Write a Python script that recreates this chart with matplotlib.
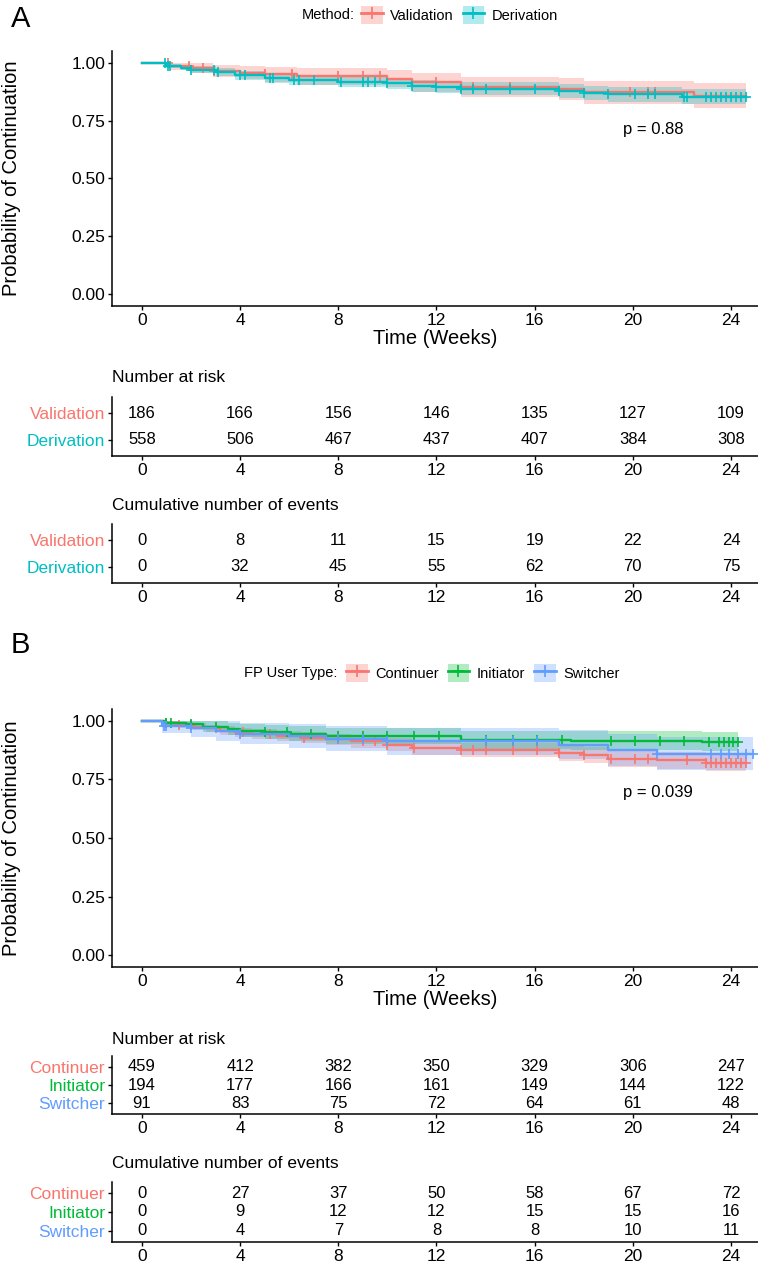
import numpy as np
import matplotlib
matplotlib.use("Agg")
import matplotlib.pyplot as plt
from matplotlib.patches import Patch
from matplotlib.lines import Line2D

plt.rcParams['font.family'] = ['Liberation Sans', 'DejaVu Sans']

W, H = 758, 1265

# ---- Panel A: Validation vs Derivation ----
val_t = [0, 1.1, 2.0, 2.9, 4.0, 5.0, 6.3, 10.0, 11.0, 13.0, 17.0, 18.0, 22.5]
val_s = [1.0, 0.985, 0.975, 0.965, 0.957, 0.950, 0.940, 0.930, 0.915, 0.895, 0.885, 0.872, 0.858]
val_lo = [1.0, 0.968, 0.953, 0.939, 0.928, 0.918, 0.905, 0.893, 0.875, 0.851, 0.838, 0.822, 0.805]
val_hi = [1.0, 1.0, 0.998, 0.991, 0.986, 0.982, 0.975, 0.967, 0.955, 0.939, 0.932, 0.922, 0.911]
val_end = 24.6
val_cens = [1.05, 1.9, 2.5, 2.95, 5.0, 6.1, 8.0, 9.0, 9.7, 12.0, 13.0, 13.5, 15.0, 19.9, 20.6, 20.9]

der_t = [0, 1.0, 1.6, 2.0, 3.0, 3.8, 5.0, 6.0, 8.0, 10.0, 11.0, 12.0, 13.0, 17.0, 18.0, 19.0, 22.0]
der_s = [1.0, 0.987, 0.978, 0.970, 0.960, 0.945, 0.935, 0.925, 0.918, 0.910, 0.900, 0.895, 0.888, 0.878, 0.870, 0.863, 0.852]
der_lo = [1.0, 0.978, 0.966, 0.956, 0.944, 0.926, 0.914, 0.902, 0.894, 0.885, 0.874, 0.868, 0.860, 0.849, 0.840, 0.832, 0.820]
der_hi = [1.0, 0.996, 0.990, 0.984, 0.976, 0.964, 0.956, 0.948, 0.942, 0.935, 0.926, 0.922, 0.916, 0.907, 0.900, 0.894, 0.884]
der_end = 24.6
der_cens = [0.95, 1.05, 1.15, 2.0, 2.95, 3.1, 4.0, 4.2, 5.2, 5.35, 6.2, 6.4, 7.0, 8.1, 9.0, 9.2, 9.5,
            10.0, 11.0, 12.0, 13.0, 13.5, 14.0, 15.0, 16.0, 17.0, 18.0, 19.0, 20.1, 20.6, 20.9, 22.1,
            22.2, 23.0, 23.2, 23.4, 23.6, 23.8, 24.0, 24.2, 24.4, 24.6]

risk_a_val = [186, 166, 156, 146, 135, 127, 109]
risk_a_der = [558, 506, 467, 437, 407, 384, 308]
events_a_val = [0, 8, 11, 15, 19, 22, 24]
events_a_der = [0, 32, 45, 55, 62, 70, 75]

# ---- Panel B: FP user type ----
cont_t = [0, 1.0, 1.5, 2.1, 2.6, 3.2, 3.8, 4.5, 5.5, 6.5, 7.5, 8.5, 10.0, 11.0, 13.0, 17.0, 18.0, 19.0, 21.0, 23.0]
cont_s = [1.0, 0.99, 0.982, 0.975, 0.967, 0.958, 0.950, 0.942, 0.935, 0.928, 0.920, 0.912, 0.897, 0.882, 0.875, 0.862, 0.853, 0.838, 0.831, 0.820]
cont_lo = [1.0, 0.981, 0.970, 0.961, 0.951, 0.940, 0.930, 0.921, 0.912, 0.904, 0.895, 0.885, 0.869, 0.852, 0.844, 0.830, 0.820, 0.804, 0.796, 0.784]
cont_hi = [1.0, 0.999, 0.994, 0.989, 0.983, 0.976, 0.970, 0.963, 0.958, 0.952, 0.945, 0.939, 0.925, 0.912, 0.906, 0.894, 0.886, 0.872, 0.866, 0.856]
cont_end = 24.6
cont_cens = [1.0, 1.5, 2.0, 3.0, 4.1, 5.2, 6.6, 8.0, 9.0, 9.5, 10.0, 11.1, 13.0, 13.5, 14.0, 15.1, 16.1, 17.0,
             18.0, 19.1, 20.1, 20.6, 22.2, 23.0, 23.2, 23.4, 23.6, 23.8, 24.0, 24.2, 24.4, 24.6]

init_t = [0, 1.0, 1.8, 2.5, 3.5, 4.0, 5.0, 6.0, 7.5, 13.0, 17.5, 22.8]
init_s = [1.0, 0.99, 0.984, 0.975, 0.965, 0.958, 0.952, 0.945, 0.934, 0.919, 0.915, 0.910]
init_lo = [1.0, 0.976, 0.966, 0.953, 0.939, 0.930, 0.921, 0.912, 0.899, 0.880, 0.875, 0.869]
init_hi = [1.0, 1.0, 1.0, 0.997, 0.991, 0.987, 0.983, 0.978, 0.970, 0.958, 0.955, 0.951]
init_end = 24.3
init_cens = [1.0, 1.2, 2.0, 3.0, 5.0, 5.9, 6.9, 8.0, 9.0, 10.0, 11.1, 12.1, 14.0, 15.1, 16.1, 17.1,
             19.1, 20.1, 21.1, 22.1, 23.1, 23.5, 23.7, 23.9, 24.1, 24.3]

sw_t = [0, 0.8, 2.0, 3.0, 4.0, 6.0, 7.5, 10.0, 17.0, 19.0, 21.0]
sw_s = [1.0, 0.978, 0.967, 0.956, 0.945, 0.934, 0.923, 0.912, 0.898, 0.875, 0.860]
sw_lo = [1.0, 0.948, 0.931, 0.915, 0.899, 0.884, 0.869, 0.855, 0.836, 0.808, 0.790]
sw_hi = [1.0, 1.0, 1.0, 0.998, 0.992, 0.985, 0.978, 0.970, 0.960, 0.942, 0.930]
sw_end = 24.9
sw_cens = [0.9, 1.0, 2.0, 4.0, 8.0, 9.0, 10.0, 14.0, 15.1, 16.1, 21.0, 23.2, 23.6, 23.9, 24.3, 24.6, 24.9]

risk_b_cont = [459, 412, 382, 350, 329, 306, 247]
risk_b_init = [194, 177, 166, 161, 149, 144, 122]
risk_b_sw = [91, 83, 75, 72, 64, 61, 48]
events_b_cont = [0, 27, 37, 50, 58, 67, 72]
events_b_init = [0, 9, 12, 12, 15, 15, 16]
events_b_sw = [0, 4, 7, 8, 8, 10, 11]

time_ticks = [0, 4, 8, 12, 16, 20, 24]
XLIM = (-1.22, 25.1)

RED, TEAL = "#F8766D", "#00BFC4"
GREEN, BLUE = "#00BA38", "#619CFF"


def px_axes(fig, x0, y0, x1, y1):
    """Add axes from pixel box (top-left origin)."""
    return fig.add_axes([x0 / W, 1 - y1 / H, (x1 - x0) / W, (y1 - y0) / H])


def style_axes(ax, tick_size=12.5):
    """ggplot classic look: left and bottom axis lines only."""
    for side in ["top", "right"]:
        ax.spines[side].set_visible(False)
    for side in ["left", "bottom"]:
        ax.spines[side].set_linewidth(1.1)
    ax.tick_params(direction="out", length=3, width=1, labelsize=tick_size, pad=2)
    ax.set_xlim(*XLIM)
    ax.set_xticks(time_ticks)


def draw_curve(ax, t, s, lo, hi, end, cens, color):
    """Draw one Kaplan-Meier step curve with its band and censor marks."""
    tt = np.append(t, end)
    ss = np.append(s, s[-1])
    ax.fill_between(tt, np.append(lo, lo[-1]), np.append(hi, hi[-1]),
                    step="post", color=color, alpha=0.3, lw=0)
    ax.step(tt, ss, where="post", color=color, lw=1.7)
    idx = np.searchsorted(t, cens, side="right") - 1
    ax.plot(cens, np.array(s)[idx], ls="none", marker="+", ms=7.5, mew=1.2, color=color)


def km_panel(fig, box, groups, pval, ylabel_y):
    ax = px_axes(fig, *box)
    for g in groups:
        draw_curve(ax, *g)
    style_axes(ax)
    ax.set_ylim(-0.05, 1.05)
    ax.set_yticks([0, 0.25, 0.5, 0.75, 1.0])
    ax.set_yticklabels(["0.00", "0.25", "0.50", "0.75", "1.00"])
    ax.set_xlabel("Time (Weeks)", fontsize=14.5, labelpad=1)
    ax.text(19.6, pval[1], pval[0], fontsize=12, va="center")
    fig.text(12 / W, 1 - ylabel_y / H, "Probability of Continuation", rotation=90,
             fontsize=14.5, ha="center", va="center")
    return ax


def table_panel(fig, box, title, rows, title_y):
    """Risk / events table under the KM plot."""
    ax = px_axes(fig, *box)
    n = len(rows)
    for i, (name, vals, color) in enumerate(rows):
        y = n - i
        for t, v in zip(time_ticks, vals):
            ax.text(t, y, str(v), ha="center", va="center", fontsize=12)
    style_axes(ax)
    ax.set_ylim(0.4, n + 0.6)
    ax.set_yticks([n - i for i in range(n)])
    ax.set_yticklabels([r[0] for r in rows])
    for lab, r in zip(ax.get_yticklabels(), rows):
        lab.set_color(r[2])
    fig.text(box[0] / W, 1 - title_y / H, title, fontsize=12.5, ha="left", va="center")
    return ax


def legend_row(fig, title, labels, colors, x_title, x_leg, y):
    fig.text(x_title / W, 1 - y / H, title, fontsize=10.5, ha="left", va="center")
    handles = [(Patch(facecolor=c, alpha=0.3, lw=0),
                Line2D([], [], color=c, lw=2, marker="+", ms=8, mew=1.2)) for c in colors]
    fig.legend(handles, labels, loc="center left", bbox_to_anchor=(x_leg / W, 1 - y / H),
               ncol=len(labels), frameon=False, fontsize=10.5, handlelength=1.5,
               handleheight=1.6, handletextpad=0.5, columnspacing=0.6, borderpad=0,
               borderaxespad=0)


fig = plt.figure(figsize=(W / 100, H / 100), dpi=100)

# Panel A
fig.text(11 / W, 1 - 19 / H, "A", fontsize=21, ha="left", va="center")
legend_row(fig, "Method:", ["Validation", "Derivation"], [RED, TEAL], 302, 361, 15)
km_panel(fig, (112, 51, 758, 306),
         [(val_t, val_s, val_lo, val_hi, val_end, val_cens, RED),
          (der_t, der_s, der_lo, der_hi, der_end, der_cens, TEAL)],
         ("p = 0.88", 0.71), 178)
table_panel(fig, (112, 397, 758, 456), "Number at risk",
            [("Validation", risk_a_val, RED), ("Derivation", risk_a_der, TEAL)], 377)
table_panel(fig, (112, 524, 758, 583), "Cumulative number of events",
            [("Validation", events_a_val, RED), ("Derivation", events_a_der, TEAL)], 505)

# Panel B
fig.text(11 / W, 1 - 645 / H, "B", fontsize=21, ha="left", va="center")
legend_row(fig, "FP User Type:", ["Continuer", "Initiator", "Switcher"],
           [RED, GREEN, BLUE], 244, 346, 673)
km_panel(fig, (112, 709, 758, 967),
         [(cont_t, cont_s, cont_lo, cont_hi, cont_end, cont_cens, RED),
          (init_t, init_s, init_lo, init_hi, init_end, init_cens, GREEN),
          (sw_t, sw_s, sw_lo, sw_hi, sw_end, sw_cens, BLUE)],
         ("p = 0.039", 0.694), 838)
table_panel(fig, (112, 1056, 758, 1114), "Number at risk",
            [("Continuer", risk_b_cont, RED), ("Initiator", risk_b_init, GREEN),
             ("Switcher", risk_b_sw, BLUE)], 1040)
table_panel(fig, (112, 1182, 758, 1242), "Cumulative number of events",
            [("Continuer", events_b_cont, RED), ("Initiator", events_b_init, GREEN),
             ("Switcher", events_b_sw, BLUE)], 1163)

fig.savefig("out.png", dpi=100)
